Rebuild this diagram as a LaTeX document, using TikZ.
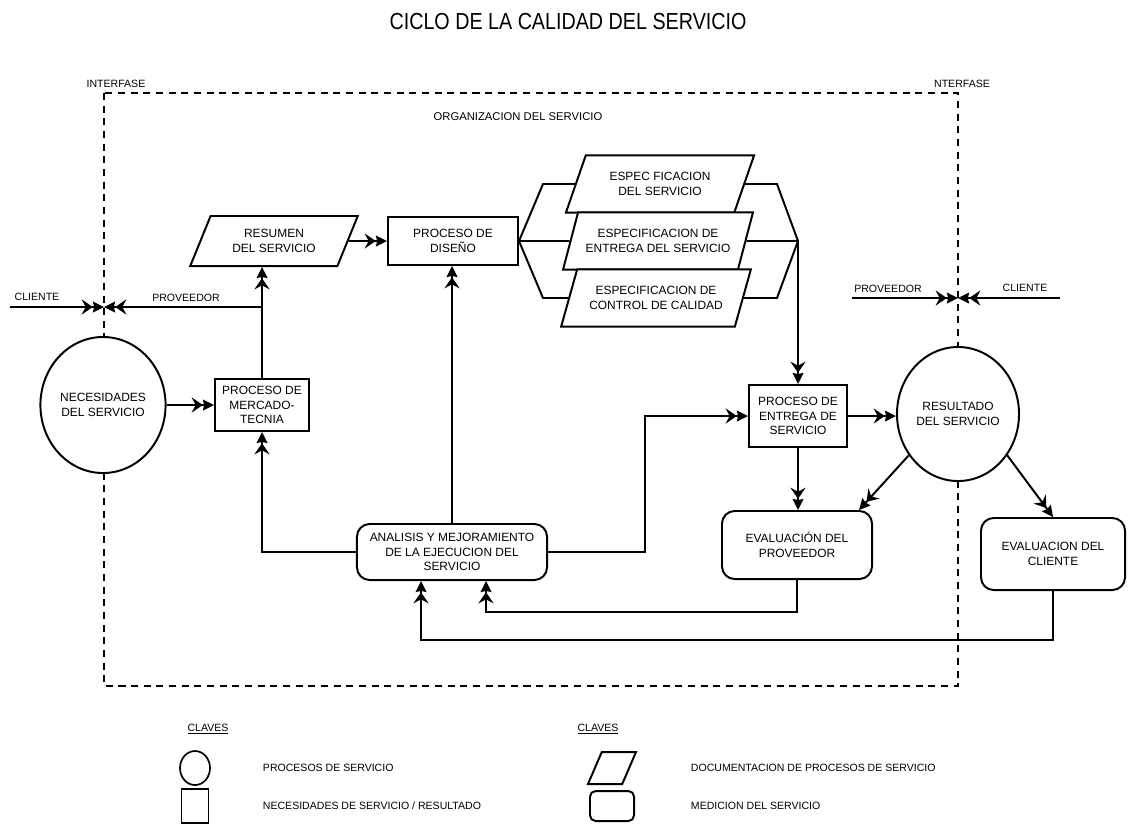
\documentclass[tikz,border=0pt]{standalone}
\usepackage{fontspec}
\setmainfont{Liberation Sans}
\newfontfamily\titlefont[FakeStretch=0.85]{Liberation Sans}
\usetikzlibrary{shapes.geometric,arrows.meta}

\begin{document}
\begin{tikzpicture}[x=0.025cm,y=-0.025cm,
  font=\fontsize{7.5}{9}\selectfont,
  box/.style={draw,line width=1.4pt,align=center,inner sep=1pt,fill=white,font=\fontsize{8.5}{10.5}\selectfont},
  doc/.style={box,trapezium,trapezium left angle=62,trapezium right angle=118,trapezium stretches=true},
  evl/.style={box,rounded corners=9pt},
  proc/.style={box,ellipse},
  arr/.style={line width=1.4pt,-{Stealth[length=8pt,width=11pt,inset=3pt,line width=0pt]Stealth[length=8pt,width=8pt,inset=1pt,line width=0pt]}},
  ln/.style={line width=1.4pt}]
\useasboundingbox (0,0) rectangle (1128,825);
% frame of the organisation
\draw[line width=1pt,dash pattern=on 5pt off 4pt] (104,93) rectangle (958,686);
\node[font=\titlefont\fontsize{16.5}{18}\selectfont] (title) at (568,22) {CICLO DE LA CALIDAD DEL SERVICIO};
\node (ifltxt) at (116,84) {INTERFASE};
\node (ifrtxt) at (962,84) {NTERFASE};
\node[font=\fontsize{8}{9}\selectfont] (org) at (518,117) {ORGANIZACION DEL SERVICIO};
% processes
\node[proc,minimum width=2.9cm,minimum height=3.4cm] (nec) at (103,405) {NECESIDADES\\DEL SERVICIO};
\node[box,minimum width=2.35cm,minimum height=1.3cm] (merc) at (262,405) {PROCESO DE\\MERCADO-\\TECNIA};
\node[doc,minimum width=4.2cm,minimum height=1.25cm] (resum) at (274,241) {RESUMEN\\DEL SERVICIO};
\node[box,minimum width=3.25cm,minimum height=1.2cm] (dis) at (453,241) {PROCESO DE\\DISEÑO};
\node[doc,minimum width=4.75cm,minimum height=1.43cm] (spec1) at (660,184) {ESPEC FICACION\\DEL SERVICIO};
\node[doc,minimum width=4.75cm,minimum height=1.43cm] (spec2) at (658,241) {ESPECIFICACION DE\\ENTREGA DEL SERVICIO};
\node[doc,minimum width=4.75cm,minimum height=1.43cm] (spec3) at (656,298) {ESPECIFICACION DE\\CONTROL DE CALIDAD};
\node[box,minimum width=2.45cm,minimum height=1.55cm] (ent) at (798,416) {PROCESO DE\\ENTREGA DE\\SERVICIO};
\node[proc,minimum width=2.85cm,minimum height=3.35cm] (rsl) at (958,414) {RESULTADO\\DEL SERVICIO};
\node[evl,minimum width=4.75cm,minimum height=1.4cm] (ana) at (452,552) {ANALISIS Y MEJORAMIENTO\\DE LA EJECUCION DEL\\SERVICIO};
\node[evl,minimum width=3.75cm,minimum height=1.7cm] (evp) at (797,545) {EVALUACIÓN DEL\\PROVEEDOR};
\node[evl,minimum width=3.6cm,minimum height=1.8cm] (evc) at (1053,554) {EVALUACION DEL\\CLIENTE};
% interfaces
\coordinate (cl0) at (10,307);
\coordinate (ifl) at (104,307);
\coordinate (jprov) at (262,307);
\coordinate (prv0) at (852,298);
\coordinate (ifr) at (958,298);
\coordinate (cl1) at (1060,298);
\node (tcl0) at (37,297) {CLIENTE};
\node (tprv0) at (186,298) {PROVEEDOR};
\node (tprv1) at (888,289) {PROVEEDOR};
\node (tcl1) at (1025,288) {CLIENTE};
\draw[arr] (cl0) -- (ifl);
\draw[arr] (jprov) -- (ifl);
\draw[arr] (prv0) -- (ifr);
\draw[arr] (cl1) -- (ifr);
% joints
\coordinate (jl1) at (543,184);
\coordinate (jl3) at (543,298);
\coordinate (jr1) at (777,184);
\coordinate (jr3) at (777,298);
\coordinate (jr) at (798,241);
\coordinate (ja) at (645,480);
\coordinate (jb) at (486,612);
\coordinate (jc) at (421,640);
% connectors
\draw[arr] (nec) -- (merc);
\draw[arr] (merc.north) -- (merc.north |- resum.south);
\draw[arr] (resum) -- (dis);
\draw[ln] (dis.east) -- (jl1) -- (spec1.west);
\draw[ln] (dis.east) -- (spec2.west);
\draw[ln] (dis.east) -- (jl3) -- (spec3.west);
\draw[ln] (spec1.east) -- (jr1) -- (jr);
\draw[ln] (spec2.east) -- (jr);
\draw[ln] (spec3.east) -- (jr3) -- (jr);
\draw[arr] (jr) -- (ent.north);
\draw[arr] (ent.east) -- (ent.east -| rsl.west);
\draw[arr] (ent.south) -- (ent.south |- evp.north);
\draw[arr] (rsl.220) -- ([xshift=-0.35cm]evp.north east);
\draw[arr] (rsl.-40) -- (evc.north);
\draw[arr] (ana.east) -| (ja) |- (ent.west);
\draw[arr] (ana.north) -- (ana.north |- dis.south);
\draw[arr] (ana.west) -| (merc.south);
\draw[arr] (evp.south) |- (jb) -- (jb |- ana.south);
\draw[arr] (evc.south) |- (jc) -- (jc |- ana.south);
% keys
\node (clv1) at (208,729) {\underline{CLAVES}};
\node (clv2) at (598,729) {\underline{CLAVES}};
\node[draw,ellipse,line width=1.2pt,minimum width=0.75cm,minimum height=0.85cm] (kproc) at (195,768) {};
\node[draw,line width=1.2pt,minimum width=0.68cm,minimum height=0.85cm] (kneed) at (195,806) {};
\node[doc,trapezium left angle=56,trapezium right angle=124,minimum width=1.2cm,minimum height=0.8cm] (kdoc) at (612,768) {};
\node[evl,minimum width=1.1cm,minimum height=0.75cm,rounded corners=4pt] (kmed) at (612,806) {};
\node[anchor=west] (tproc) at (258,768) {PROCESOS DE SERVICIO};
\node[anchor=west] (tneed) at (258,806) {NECESIDADES DE SERVICIO / RESULTADO};
\node[anchor=west] (tdoc) at (686,768) {DOCUMENTACION DE PROCESOS DE SERVICIO};
\node[anchor=west] (tmed) at (686,806) {MEDICION DEL SERVICIO};
\end{tikzpicture}
\end{document}
